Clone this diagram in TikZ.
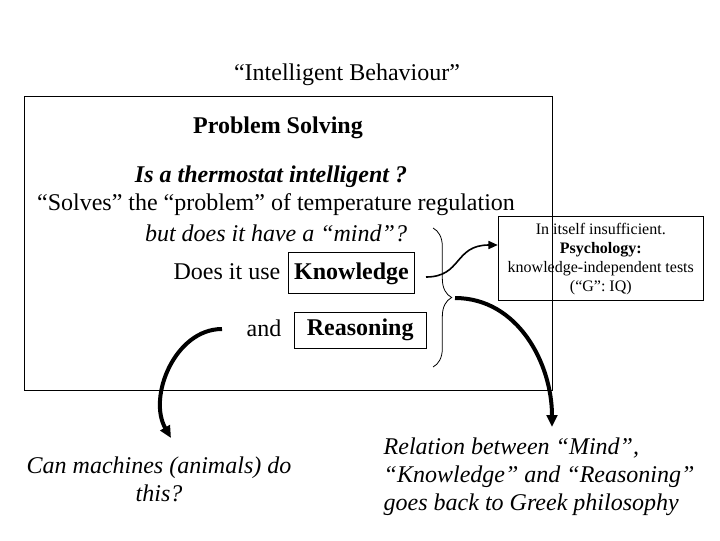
\documentclass[tikz,border=0pt]{standalone}
\usepackage{fontspec}
\setmainfont{Liberation Serif}
\usetikzlibrary{arrows.meta,decorations.pathreplacing}

\begin{document}
\begin{tikzpicture}[x=0.75pt,y=-0.75pt,
  big/.style={font=\fontsize{18}{21}\selectfont},
  small/.style={font=\fontsize{12}{14.25}\selectfont,align=center},
  termbox/.style={draw,line width=0.75pt,inner sep=0pt,font=\fontsize{18}{21}\selectfont\bfseries},
  thickarrow/.style={-{Triangle[length=9pt,width=8pt]},line width=3pt},
  thinarrow/.style={-{Triangle[length=7pt,width=6pt]},line width=1.2pt}]
  \useasboundingbox (0,0) rectangle (720,540);
  \node[big] (title) at (347,75) {“Intelligent Behaviour”};
  % frame of the problem solving part
  \draw[line width=0.75pt] (24,96) rectangle (552,390);
  \node[big,font=\fontsize{18}{21}\selectfont\bfseries] (ps) at (278,128) {Problem Solving};
  \node[big,font=\fontsize{18}{21}\selectfont\bfseries\itshape] (thermo) at (271,177) {Is a thermostat intelligent ?};
  \node[big] (solves) at (276,205) {“Solves” the “problem” of temperature regulation};
  \node[big,font=\fontsize{18}{21}\selectfont\itshape] (mind) at (276,233) {but does it have a “mind”?};
  \node[big,anchor=east] (use) at (285,272) {Does it use};
  \node[termbox,minimum width=94.5pt,minimum height=30.75pt] (know) at (351.5,273.4) {Knowledge};
  \node[big,anchor=east] (and) at (286,328) {and};
  \node[termbox,minimum width=99pt,minimum height=27pt] (reas) at (360.2,330.3) {Reasoning};
  \draw[decorate,decoration={brace,amplitude=14pt},line width=0.6pt] (433,228) -- (433,367);
  % side box
  \node[small,draw,line width=0.75pt,minimum width=153.75pt,minimum height=63pt] (info) at (600.8,258.7)
    {In itself insufficient.\\\textbf{Psychology:}\\knowledge-independent tests\\(“G”: IQ)};
  % questions below
  \node[big,font=\fontsize{18}{21}\selectfont\itshape,align=center] (mach) at (159,479)
    {Can machines (animals) do\\this?};
  \node[big,font=\fontsize{18}{21}\selectfont\itshape,align=left,anchor=west] (greek) at (379,477)
    {Relation between “Mind”,\\“Knowledge” and “Reasoning”\\goes back to Greek philosophy};
  % arrows
  \coordinate (kout) at (426,277);
  \coordinate (bout) at (455,298);
  \coordinate (aout) at (222,329);
  \coordinate (gtip) at (552,427);
  \coordinate (mtip) at (171,438);
  \draw[thinarrow] (kout) .. controls (462,277) and (454,245) .. (info.west |- 0,245);
  \draw[thickarrow] (bout) to[out=0,in=90] (gtip);
  \draw[thickarrow] (aout) to[out=180,in=120] (mtip);
\end{tikzpicture}
\end{document}
